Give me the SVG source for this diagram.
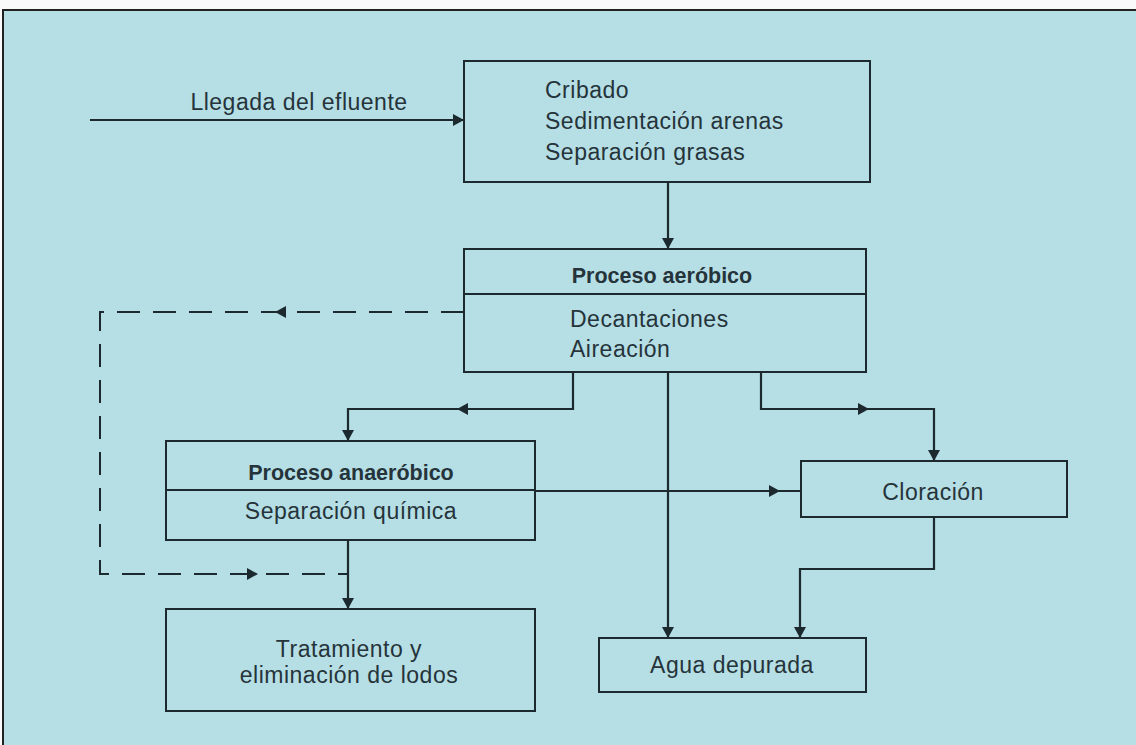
<svg xmlns="http://www.w3.org/2000/svg" xmlns:xlink="http://www.w3.org/1999/xlink" width="1136" height="745" viewBox="0 0 1136 745">
<style>
.box{fill:none;stroke:#1c2a30;stroke-width:2}
.ln{fill:none;stroke:#1c2a30;stroke-width:2.2}
.dash{fill:none;stroke:#1c2a30;stroke-width:2;stroke-dasharray:23,13}
.t{font-family:"Liberation Sans",Arial,sans-serif;font-size:23px;letter-spacing:0.5px;fill:#25343a}
.b{font-weight:bold;font-size:21.5px;letter-spacing:0}
.ah{fill:#1c2a30}
</style>
<defs>
<path id="ah" class="ah" d="M0,0 L-11,-6 L-11,6 Z"/>
</defs>
<rect x="0" y="0" width="1136" height="745" fill="#fafafa"/>
<rect x="3" y="10" width="1133" height="735" fill="#b6dee5"/>
<path d="M3,745 L3,10 L1136,10" fill="none" stroke="#222" stroke-width="2"/>

<g id="connectors">
<path class="ln" d="M90,120 L464,120"/>
<use xlink:href="#ah" transform="translate(464,120)"/>
<text class="t" x="299" y="110" text-anchor="middle">Llegada del efluente</text>

<path class="ln" d="M668,182 L668,249"/>
<use xlink:href="#ah" transform="translate(668,249) rotate(90)"/>

<path class="dash" d="M464,312 L100,312 L100,574 L348,574"/>
<use xlink:href="#ah" transform="translate(275,312) rotate(180)"/>
<use xlink:href="#ah" transform="translate(258,574)"/>

<path class="ln" d="M573,372 L573,409 L348,409 L348,441"/>
<use xlink:href="#ah" transform="translate(457,409) rotate(180)"/>
<use xlink:href="#ah" transform="translate(348,441) rotate(90)"/>

<path class="ln" d="M761,372 L761,409 L934,409 L934,461"/>
<use xlink:href="#ah" transform="translate(869,409)"/>
<use xlink:href="#ah" transform="translate(934,461) rotate(90)"/>

<path class="ln" d="M668,372 L668,638"/>
<use xlink:href="#ah" transform="translate(668,638) rotate(90)"/>

<path class="ln" d="M535,491 L801,491"/>
<use xlink:href="#ah" transform="translate(780,491)"/>

<path class="ln" d="M934,517 L934,569 L800,569 L800,638"/>
<use xlink:href="#ah" transform="translate(800,638) rotate(90)"/>

<path class="ln" d="M348,540 L348,609"/>
<use xlink:href="#ah" transform="translate(348,609) rotate(90)"/>
</g>

<g id="pretratamiento">
<rect class="box" x="464" y="61" width="406" height="121"/>
<text class="t" x="545" y="98">Cribado</text>
<text class="t" x="545" y="129">Sedimentación arenas</text>
<text class="t" x="545" y="160">Separación grasas</text>
</g>

<g id="aerobico">
<rect class="box" x="464" y="249" width="402" height="123"/>
<line class="box" x1="464" y1="294" x2="866" y2="294"/>
<text class="t b" x="662" y="283" text-anchor="middle">Proceso aeróbico</text>
<text class="t" x="570" y="327">Decantaciones</text>
<text class="t" x="570" y="357">Aireación</text>
</g>

<g id="anaerobico">
<rect class="box" x="166" y="441" width="369" height="99"/>
<line class="box" x1="166" y1="490" x2="535" y2="490"/>
<text class="t b" x="351" y="480" text-anchor="middle">Proceso anaeróbico</text>
<text class="t" x="351" y="519" text-anchor="middle">Separación química</text>
</g>

<g id="cloracion">
<rect class="box" x="801" y="461" width="266" height="56"/>
<text class="t" x="933" y="500" text-anchor="middle">Cloración</text>
</g>

<g id="lodos">
<rect class="box" x="166" y="609" width="369" height="102"/>
<text class="t" x="349" y="657" text-anchor="middle">Tratamiento y</text>
<text class="t" x="349" y="683" text-anchor="middle">eliminación de lodos</text>
</g>

<g id="agua">
<rect class="box" x="599" y="638" width="267" height="54"/>
<text class="t" x="732" y="673" text-anchor="middle">Agua depurada</text>
</g>
</svg>
